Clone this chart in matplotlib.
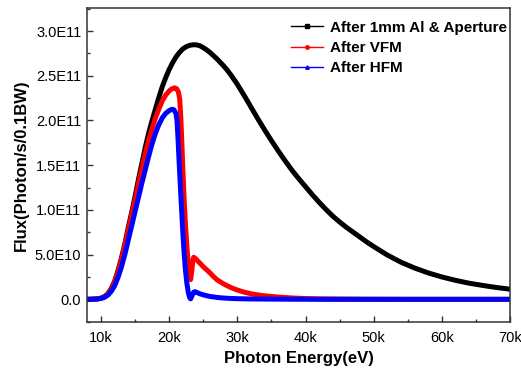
import numpy as np
import matplotlib
matplotlib.use("Agg")
import matplotlib.pyplot as plt
from matplotlib.lines import Line2D
from matplotlib.ticker import FixedLocator, FixedFormatter, MultipleLocator

plt.rcParams['font.family'] = ['Liberation Sans', 'DejaVu Sans']

# photon energy in keV, flux in units of 1E11
e_al = [8, 8.5, 9, 9.5, 10, 10.5, 11, 11.5, 12, 12.5, 13, 13.5, 14, 14.5, 15, 15.5, 16, 16.5,
        17, 17.5, 18, 18.5, 19, 19.5, 20, 20.5, 21, 21.5, 22, 22.5, 23, 23.5, 24, 24.5, 25,
        25.5, 26, 26.5, 27, 27.5, 28, 28.5, 29, 29.5, 30, 31, 32, 33, 34, 35, 36, 37, 38, 39,
        40, 41, 42, 43, 44, 45, 46, 47, 48, 49, 50, 52, 54, 56, 58, 60, 62, 64, 66, 68, 70]
f_al = [0.0, 0.0005, 0.002, 0.005, 0.012, 0.03, 0.06, 0.12, 0.20, 0.32, 0.46, 0.62, 0.80,
        0.97, 1.15, 1.34, 1.52, 1.70, 1.86, 2.00, 2.13, 2.26, 2.38, 2.48, 2.57, 2.645, 2.71,
        2.76, 2.80, 2.825, 2.84, 2.847, 2.846, 2.836, 2.815, 2.79, 2.76, 2.725, 2.69, 2.65,
        2.61, 2.565, 2.515, 2.46, 2.405, 2.28, 2.15, 2.02, 1.895, 1.775, 1.66, 1.55, 1.445,
        1.35, 1.26, 1.17, 1.085, 1.005, 0.93, 0.865, 0.805, 0.75, 0.695, 0.64, 0.59, 0.495,
        0.415, 0.35, 0.295, 0.25, 0.212, 0.18, 0.155, 0.132, 0.113]

e_vfm = [8, 8.5, 9, 9.5, 10, 10.5, 11, 11.5, 12, 12.5, 13, 13.5, 14, 14.5, 15, 15.5, 16,
         16.5, 17, 17.5, 18, 18.5, 19, 19.5, 20, 20.4, 20.8, 21.1, 21.35, 21.55, 21.7, 21.85,
         22.0, 22.2, 22.4, 22.6, 22.8, 23.0, 23.15, 23.3, 23.45, 23.6, 23.8, 24.0, 24.5, 25,
         25.5, 26, 26.5, 27, 27.5, 28, 28.5, 29, 29.5, 30, 31, 32, 33, 34, 36, 38, 40, 42, 45,
         50, 55, 60, 65, 70]
f_vfm = [0.0, 0.0005, 0.002, 0.005, 0.012, 0.029, 0.058, 0.115, 0.19, 0.305, 0.44, 0.60,
         0.77, 0.94, 1.11, 1.29, 1.46, 1.63, 1.78, 1.91, 2.03, 2.13, 2.22, 2.285, 2.33, 2.355,
         2.365, 2.355, 2.32, 2.24, 2.05, 1.78, 1.48, 1.12, 0.83, 0.59, 0.40, 0.27, 0.22, 0.30,
         0.42, 0.47, 0.46, 0.445, 0.405, 0.365, 0.33, 0.295, 0.255, 0.22, 0.195, 0.172, 0.152,
         0.134, 0.118, 0.104, 0.08, 0.062, 0.049, 0.039, 0.025, 0.015, 0.009, 0.005, 0.003,
         0.001, 0.0, 0.0, 0.0, 0.0]

e_hfm = [8, 8.5, 9, 9.5, 10, 10.5, 11, 11.5, 12, 12.5, 13, 13.5, 14, 14.5, 15, 15.5, 16,
         16.5, 17, 17.5, 18, 18.5, 19, 19.5, 20, 20.4, 20.7, 21.0, 21.15, 21.3, 21.45, 21.6,
         21.8, 22.0, 22.2, 22.4, 22.6, 22.8, 23.0, 23.15, 23.35, 23.6, 23.8, 24.2, 24.5, 25,
         25.5, 26, 27, 28, 29, 30, 32, 35, 40, 45, 50, 60, 70]
f_hfm = [0.0, 0.0005, 0.002, 0.004, 0.01, 0.022, 0.045, 0.088, 0.15, 0.245, 0.36, 0.50,
         0.66, 0.82, 0.98, 1.14, 1.30, 1.45, 1.60, 1.74, 1.86, 1.955, 2.03, 2.08, 2.11, 2.125,
         2.12, 2.08, 2.0, 1.80, 1.56, 1.33, 1.04, 0.76, 0.51, 0.32, 0.18, 0.08, 0.02, 0.005,
         0.04, 0.08, 0.085, 0.072, 0.062, 0.05, 0.04, 0.032, 0.021, 0.014, 0.01, 0.007, 0.004,
         0.002, 0.0005, 0.0, 0.0, 0.0, 0.0]

labels = ['After 1mm Al & Aperture', 'After VFM', 'After HFM']
x_ticks = [10000, 20000, 30000, 40000, 50000, 60000, 70000]
x_ticklabels = ['10k', '20k', '30k', '40k', '50k', '60k', '70k']
y_ticks = [0.0, 0.5e11, 1.0e11, 1.5e11, 2.0e11, 2.5e11, 3.0e11]
y_ticklabels = ['0.0', '5.0E10', '1.0E11', '1.5E11', '2.0E11', '2.5E11', '3.0E11']

fig = plt.figure(figsize=(5.21, 3.71), dpi=100)
ax = fig.add_axes([0.1676, 0.1313, 0.8114, 0.8464])

series = [(e_al, f_al, 'k', 's'), (e_vfm, f_vfm, '#ff0000', 'o'), (e_hfm, f_hfm, '#0000ff', '^')]
handles = []
for (e, f, c, m), lab in zip(series, labels):
    ax.plot(np.array(e) * 1000, np.array(f) * 1e11, color=c, lw=3.6,
            solid_joinstyle='round', solid_capstyle='round')
    handles.append(Line2D([], [], color=c, lw=1.0, marker=m, markersize=2.5, label=lab))

ax.set_xlim(8000, 70000)
ax.set_ylim(-0.257e11, 3.255e11)

ax.xaxis.set_major_locator(FixedLocator(x_ticks))
ax.xaxis.set_major_formatter(FixedFormatter(x_ticklabels))
ax.xaxis.set_minor_locator(MultipleLocator(5000))
ax.yaxis.set_major_locator(FixedLocator(y_ticks))
ax.yaxis.set_major_formatter(FixedFormatter(y_ticklabels))
ax.yaxis.set_minor_locator(MultipleLocator(0.25e11))

ax.tick_params(which='both', direction='in', top=False, right=False, labelsize=10.5, color='#333333')
ax.tick_params(which='major', length=4.3, width=1.0)
ax.tick_params(which='minor', length=2.4, width=1.0)
ax.tick_params(axis='x', pad=6.5)
ax.tick_params(axis='y', pad=4.3)
for s in ax.spines.values():
    s.set_linewidth(1.1)
    s.set_color('#333333')

ax.set_xlabel('Photon Energy(eV)', fontsize=12, fontweight='bold', labelpad=4)
ax.set_ylabel('Flux(Photon/s/0.1BW)', fontsize=12, fontweight='bold', labelpad=4)

ax.legend(handles=handles, loc='upper right', bbox_to_anchor=(1.0, 0.97), frameon=False,
          prop={'size': 11, 'weight': 'bold'}, handlelength=2.1, handletextpad=0.45,
          labelspacing=0.4, borderaxespad=0.0, borderpad=0.2)

fig.savefig('out.png', dpi=100)
